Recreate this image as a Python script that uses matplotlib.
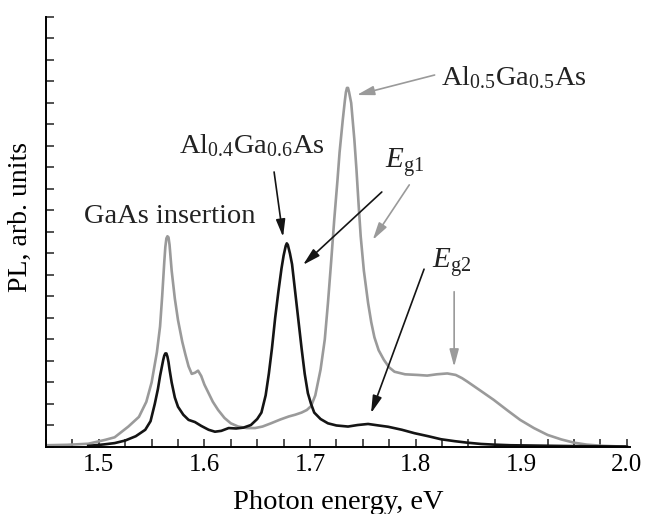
import numpy as np
import matplotlib
matplotlib.use("Agg")
import matplotlib.pyplot as plt
from matplotlib.ticker import MultipleLocator

#PL spectra (photon energy in eV, intensity in arb. units)
#grey curve: Al0.5Ga0.5As sample
energy_grey = [1.450, 1.470, 1.490, 1.506, 1.515, 1.528, 1.538, 1.545, 1.550, 1.555,
               1.558, 1.560, 1.561, 1.562, 1.563, 1.564, 1.565, 1.566, 1.567, 1.568,
               1.569, 1.572, 1.575, 1.579, 1.582,
               1.585, 1.588, 1.591, 1.594, 1.597, 1.600, 1.604, 1.608, 1.613, 1.619,
               1.625, 1.632, 1.640, 1.648, 1.655, 1.663, 1.672, 1.680, 1.686, 1.692,
               1.697, 1.701, 1.705, 1.710, 1.714, 1.717, 1.720, 1.723, 1.726, 1.728,
               1.731, 1.733, 1.734, 1.735, 1.736, 1.737, 1.739, 1.742, 1.744, 1.746,
               1.748, 1.751, 1.755, 1.758, 1.761, 1.765, 1.770, 1.775, 1.780, 1.790,
               1.802, 1.811, 1.820, 1.830, 1.838, 1.844, 1.849, 1.862, 1.874, 1.887,
               1.899, 1.912, 1.925, 1.938, 1.950, 1.962, 1.975, 1.990, 2.000]
pl_grey = [0.08, 0.10, 0.15, 0.33, 0.45, 0.95, 1.4, 2.1, 3.0, 4.4,
           5.6, 7.0, 7.8, 8.6, 9.3, 9.7, 9.8, 9.75, 9.4, 8.8,
           8.2, 6.9, 5.9, 4.9, 4.3,
           3.75, 3.4, 3.45, 3.55, 3.3, 2.9, 2.5, 2.1, 1.72, 1.35,
           1.1, 0.95, 0.88, 0.88, 0.95, 1.1, 1.28, 1.42, 1.5, 1.6,
           1.72, 1.9, 2.4, 3.6, 5.0, 6.7, 8.6, 10.6, 12.4, 13.7,
           15.2, 16.1, 16.5, 16.7, 16.7, 16.5, 16.0, 14.3, 12.9, 11.3,
           9.8, 8.2, 6.7, 5.8, 5.1, 4.5, 4.05, 3.7, 3.5, 3.38,
           3.35, 3.32, 3.38, 3.42, 3.35, 3.2, 3.04, 2.6, 2.19, 1.7,
           1.26, 0.88, 0.56, 0.35, 0.2, 0.11, 0.06, 0.03, 0.02]

#black curve: Al0.4Ga0.6As sample
energy_black = [1.490, 1.505, 1.515, 1.525, 1.535, 1.544, 1.549, 1.553, 1.556, 1.558,
                1.560, 1.561, 1.562, 1.563, 1.564, 1.565, 1.566, 1.567, 1.569, 1.572,
                1.575, 1.580, 1.585,
                1.591, 1.597, 1.604, 1.610, 1.616, 1.623, 1.630, 1.637, 1.644, 1.650,
                1.654, 1.658, 1.661, 1.664, 1.667, 1.670, 1.673, 1.675, 1.677, 1.678,
                1.679, 1.681, 1.683, 1.686, 1.689, 1.692, 1.695, 1.698, 1.701, 1.704,
                1.710, 1.717, 1.725, 1.736, 1.745, 1.755, 1.765, 1.774, 1.787, 1.799,
                1.812, 1.824, 1.837, 1.849, 1.862, 1.874, 1.890, 1.906, 1.950, 2.000]
pl_black = [0.05, 0.12, 0.18, 0.3, 0.5, 0.8, 1.2, 2.0, 2.7, 3.3,
            3.8, 4.05, 4.25, 4.35, 4.35, 4.2, 3.95, 3.6, 3.0, 2.3,
            1.87, 1.5, 1.26,
            1.16, 0.98, 0.8, 0.71, 0.75, 0.88, 0.86, 0.9, 1.02, 1.3,
            1.6, 2.4, 3.4, 4.6, 6.0, 7.2, 8.3, 8.9, 9.35, 9.47,
            9.4, 9.0, 8.5, 7.2, 5.9, 4.6, 3.4, 2.5, 2.0, 1.6,
            1.3, 1.1, 1.0, 0.95, 1.02, 1.07, 1.0, 0.94, 0.8, 0.64,
            0.5, 0.36, 0.27, 0.2, 0.14, 0.11, 0.08, 0.07, 0.04, 0.02]

x_ticks = [1.5, 1.6, 1.7, 1.8, 1.9, 2.0]
x_tick_labels = ['1.5', '1.6', '1.7', '1.8', '1.9', '2.0']

plt.rcParams['font.family'] = ['Liberation Serif', 'DejaVu Serif']
plt.rcParams['mathtext.fontset'] = 'custom'
plt.rcParams['mathtext.rm'] = 'Liberation Serif'
plt.rcParams['mathtext.it'] = 'Liberation Serif:italic'

GREY = '#9a9a9a'
BLACK = '#141414'

fig = plt.figure(figsize=(6.6, 5.14), dpi=100)
ax = fig.add_axes([0.0697, 0.1304, 0.8848, 0.8366])

ax.plot(energy_grey, pl_grey, color=GREY, lw=1.9)
ax.plot(energy_black, pl_black, color=BLACK, lw=1.9)

ax.set_xlim(1.45, 2.003)
ax.set_ylim(0, 20)

#axes look: only left and bottom spines, ticks pointing inward
ax.spines['top'].set_visible(False)
ax.spines['right'].set_visible(False)
ax.spines['left'].set_linewidth(1.4)
ax.spines['bottom'].set_linewidth(1.4)
ax.set_xticks(x_ticks)
ax.set_xticklabels(x_tick_labels)
ax.xaxis.set_minor_locator(MultipleLocator(0.025))
ax.yaxis.set_major_locator(MultipleLocator(1))
ax.set_yticklabels([])
ax.tick_params(which='both', direction='in', length=5.5, width=1.1, color='#222222')
ax.tick_params(axis='x', labelsize=18, pad=5)

ax.set_xlabel('Photon energy, eV', fontsize=20.5, va='top')
ax.xaxis.set_label_coords(0.5, -0.1)
ax.set_ylabel('PL, arb. units', fontsize=20)
ax.yaxis.set_label_coords(-0.022, 0.535)

#labels and arrows
arrow_black = dict(arrowstyle='-|>,head_length=0.75,head_width=0.2', color=BLACK,
                   lw=1.2, shrinkA=0, shrinkB=0, mutation_scale=14)
arrow_grey = dict(arrowstyle='-|>,head_length=0.75,head_width=0.2', color=GREY,
                  lw=1.2, shrinkA=0, shrinkB=0, mutation_scale=14)

ax.text(1.4858, 10.42, 'GaAs insertion', fontsize=20.5, color='#222222', va='baseline')
ax.text(1.5755, 13.67, r'Al$_{\mathrm{0.4}}$Ga$_{\mathrm{0.6}}$As', fontsize=20.5,
        color='#222222', va='baseline')
ax.text(1.8236, 16.84, r'Al$_{\mathrm{0.5}}$Ga$_{\mathrm{0.5}}$As', fontsize=20.5,
        color='#222222', va='baseline')
ax.text(1.7708, 12.98, r'$E_{\mathrm{g1}}$', fontsize=21, color='#222222', va='baseline')
ax.text(1.816, 8.33, r'$E_{\mathrm{g2}}$', fontsize=21, color='#222222', va='baseline')

ax.annotate('', xy=(1.7443, 16.37), xytext=(1.818, 17.30), arrowprops=arrow_grey)
ax.annotate('', xy=(1.6745, 9.77), xytext=(1.666, 12.79), arrowprops=arrow_black)
ax.annotate('', xy=(1.6934, 8.47), xytext=(1.768, 11.86), arrowprops=arrow_black)
ax.annotate('', xy=(1.7594, 9.63), xytext=(1.794, 12.19), arrowprops=arrow_grey)
ax.annotate('', xy=(1.7578, 1.57), xytext=(1.808, 8.27), arrowprops=arrow_black)
ax.annotate('', xy=(1.8365, 3.73), xytext=(1.8365, 7.22), arrowprops=arrow_grey)

fig.savefig('out.png', dpi=100)
